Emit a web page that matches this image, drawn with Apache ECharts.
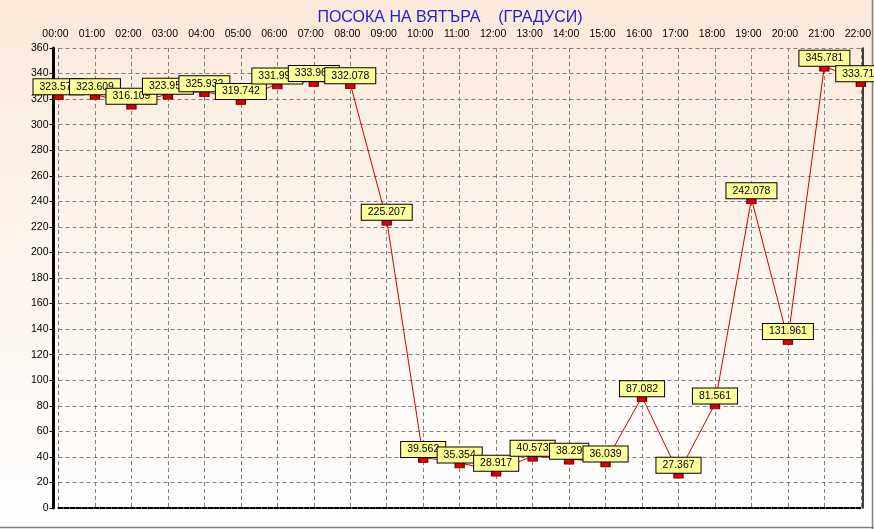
<!DOCTYPE html>
<html>
<head>
<meta charset="utf-8">
<script src="https://cdn.jsdelivr.net/npm/echarts@6/dist/echarts.min.js"></script>
<style>
  html, body { margin: 0; padding: 0; background: #fff; }
  #chart { width: 874px; height: 529px; }
</style>
</head>
<body>
<div id="chart"></div>
<script>
/* -------------------------------------------------------------------------- */
/*                           Wind direction (degrees)                         */
/* -------------------------------------------------------------------------- */
var hours = ['00:00', '01:00', '02:00', '03:00', '04:00', '05:00', '06:00', '07:00',
  '08:00', '09:00', '10:00', '11:00', '12:00', '13:00', '14:00', '15:00',
  '16:00', '17:00', '18:00', '19:00', '20:00', '21:00', '22:00'];
var direction = [323.571, 323.609, 316.109, 323.953, 325.932, 319.742, 331.992, 333.963,
  332.078, 225.207, 39.562, 35.354, 28.917, 40.573, 38.29, 36.039,
  87.082, 27.367, 81.561, 242.078, 131.961, 345.781, 333.711];
var yMin = 0;
var yMax = 360;
var yStep = 20;

var chartDom = document.getElementById('chart');
var myChart = echarts.init(chartDom);
var option;

var font = 'Arial, "Liberation Sans", sans-serif';

option = {
  animation: false,
  backgroundColor: {
    type: 'linear', x: 0, y: 0, x2: 0, y2: 1,
    colorStops: [
      { offset: 0, color: '#fbeadb' },
      { offset: 1, color: '#ffffff' }
    ]
  },
  title: {
    text: 'ПОСОКА НА ВЯТЪРА    (ГРАДУСИ)',
    left: 445,
    textAlign: 'center',
    top: 5,
    textStyle: {
      color: '#2222cc',
      fontSize: 16,
      fontWeight: 'normal',
      fontFamily: font
    }
  },
  grid: {
    left: 58.5,
    right: 12.5,
    top: 48,
    bottom: 21
  },
  xAxis: [{
    type: 'category',
    position: 'top',
    data: hours,
    boundaryGap: false,
    axisLine: {
      lineStyle: { color: '#000', width: 2, type: [4, 2] }
    },
    axisTick: { show: false },
    axisLabel: {
      color: '#000',
      fontSize: 10.5,
      fontFamily: font,
      margin: 8,
      padding: [0, 6, 0, 0]
    },
    splitLine: {
      show: true,
      lineStyle: { color: '#808080', type: [4, 3], width: 1 }
    }
  }, {
    type: 'category',
    position: 'bottom',
    data: hours,
    boundaryGap: false,
    axisLine: {
      lineStyle: { color: '#000', width: 1.5, type: [4, 2] }
    },
    axisTick: { show: false },
    axisLabel: { show: false }
  }],
  yAxis: [{
    type: 'value',
    min: yMin,
    max: yMax,
    interval: yStep,
    offset: 5,
    axisLine: {
      show: true,
      lineStyle: { color: '#000', width: 3 }
    },
    axisTick: {
      show: true,
      length: 4,
      lineStyle: { color: '#000' }
    },
    axisLabel: {
      color: '#000',
      fontSize: 10.5,
      fontFamily: font,
      margin: 5
    },
    splitLine: {
      show: true,
      lineStyle: { color: '#808080', type: [4, 3], width: 1 }
    }
  }, {
    type: 'value',
    position: 'right',
    min: yMin,
    max: yMax,
    interval: yStep,
    offset: 1.5,
    axisLine: {
      show: true,
      lineStyle: { color: '#000', width: 1.5 }
    },
    axisTick: { show: false },
    axisLabel: { show: false },
    splitLine: { show: false }
  }],
  series: [{
    type: 'line',
    data: direction,
    symbol: 'rect',
    symbolSize: [9, 5],
    symbolOffset: [0, 2.5],
    showAllSymbol: true,
    lineStyle: { color: '#d00000', width: 1 },
    itemStyle: {
      color: '#dd0000',
      borderColor: '#700000',
      borderWidth: 1
    },
    label: {
      show: true,
      position: 'top',
      distance: 0,
      color: '#000',
      fontSize: 10.5,
      fontFamily: font,
      lineHeight: 13,
      backgroundColor: '#ffff99',
      borderColor: '#000',
      borderWidth: 1,
      padding: [1, 6, 1, 6]
    },
    labelLayout: { hideOverlap: false },
    emphasis: { disabled: true },
    z: 10
  }],
  graphic: [{
    type: 'line',
    shape: { x1: 872.5, y1: 0, x2: 872.5, y2: 529 },
    style: { stroke: '#808080', lineWidth: 1.5 }
  }, {
    type: 'line',
    shape: { x1: 0, y1: 527.5, x2: 874, y2: 527.5 },
    style: { stroke: '#808080', lineWidth: 1.5 }
  }]
};

option && myChart.setOption(option);
</script>
</body>
</html>
